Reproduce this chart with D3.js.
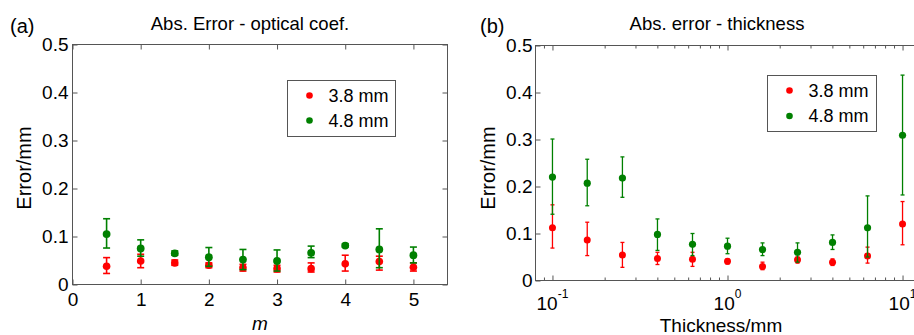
<!DOCTYPE html>
<html>
<head>
<meta charset="utf-8">
<script src="https://cdn.jsdelivr.net/npm/d3@7"></script>
<style>
  body { margin: 0; background: #fff; }
  svg { display: block; }
  text { font-family: "Liberation Sans", Arial, sans-serif; fill: #000; }
</style>
</head>
<body>
<svg id="chart" width="914" height="335"></svg>
<script>
// ---- data (a): error vs m ----
const mValues   = [0.5, 1, 1.5, 2, 2.5, 3, 3.5, 4, 4.5, 5];
const mErr38    = [0.038, 0.049, 0.045, 0.040, 0.035, 0.033, 0.033, 0.043, 0.048, 0.036];
const mErr38Low = [0.023, 0.035, 0.040, 0.035, 0.028, 0.026, 0.026, 0.028, 0.030, 0.028];
const mErr38Hi  = [0.056, 0.063, 0.051, 0.045, 0.042, 0.040, 0.045, 0.061, 0.059, 0.045];
const mErr48    = [0.105, 0.075, 0.065, 0.057, 0.052, 0.049, 0.066, 0.081, 0.073, 0.061];
const mErr48Low = [0.076, 0.059, 0.061, 0.038, 0.031, 0.028, 0.056, 0.078, 0.035, 0.045];
const mErr48Hi  = [0.137, 0.093, 0.070, 0.077, 0.073, 0.072, 0.080, 0.085, 0.116, 0.078];

// ---- data (b): error vs thickness ----
const thickness = [0.1, 0.158, 0.251, 0.398, 0.631, 1, 1.585, 2.512, 3.981, 6.31, 10];
const tErr38    = [0.112, 0.086, 0.054, 0.047, 0.045, 0.041, 0.030, 0.044, 0.039, 0.052, 0.120];
const tErr38Low = [0.069, 0.053, 0.028, 0.034, 0.030, 0.035, 0.023, 0.037, 0.032, 0.037, 0.076];
const tErr38Hi  = [0.161, 0.124, 0.081, 0.060, 0.060, 0.046, 0.039, 0.050, 0.046, 0.071, 0.168];
const tErr48    = [0.220, 0.207, 0.218, 0.098, 0.077, 0.073, 0.066, 0.060, 0.081, 0.112, 0.309];
const tErr48Low = [0.141, 0.159, 0.177, 0.064, 0.053, 0.057, 0.053, 0.039, 0.066, 0.050, 0.182];
const tErr48Hi  = [0.301, 0.258, 0.263, 0.131, 0.100, 0.090, 0.080, 0.080, 0.097, 0.180, 0.437];

// ---- ticks / labels ----
const yTicks = [0, 0.1, 0.2, 0.3, 0.4, 0.5];
const yTickLabels = ["0", "0.1", "0.2", "0.3", "0.4", "0.5"];
const mTicks = [0, 1, 2, 3, 4, 5];
const thkMajor = [0.1, 1, 10];
const thkExponents = ["-1", "0", "1"];
const seriesNames = ["3.8 mm", "4.8 mm"];
const seriesColors = ["#ff0000", "#008000"];

const svg = d3.select("#chart");
const AXIS_COLOR = "#555";

function drawFrame(p, x, y, xTicks, xFormat, minorTicks){
  const g = svg.append("g");
  // bottom
  const bottom = g.append("g").attr("transform", `translate(0,${p.bottom})`)
    .call(d3.axisBottom(x).tickValues(xTicks).tickSize(-5).tickPadding(8).tickFormat(xFormat));
  // top
  g.append("g").attr("transform", `translate(0,${p.top})`)
    .call(d3.axisTop(x).tickValues(xTicks).tickSize(-5).tickFormat(""));
  // left
  g.append("g").attr("transform", `translate(${p.left},0)`)
    .call(d3.axisLeft(y).tickValues(yTicks).tickSize(-5).tickPadding(p.yPad)
      .tickFormat((d,i) => yTickLabels[i]));
  // right
  g.append("g").attr("transform", `translate(${p.right},0)`)
    .call(d3.axisRight(y).tickValues(yTicks).tickSize(-5).tickFormat(""));

  if(minorTicks){
    [p.bottom, p.top].forEach((yy, k) => {
      g.append("g").selectAll("line").data(minorTicks).join("line")
        .attr("x1", d => x(d)).attr("x2", d => x(d))
        .attr("y1", yy).attr("y2", k === 0 ? yy - 3 : yy + 3)
        .attr("stroke", AXIS_COLOR);
    });
  }

  g.selectAll(".domain").remove();
  g.selectAll(".tick line").attr("stroke", AXIS_COLOR);
  g.selectAll(".tick text").style("font-size", "19px")
    .style("font-family", "'Liberation Sans', Arial, sans-serif").attr("fill", "#000");

  g.append("rect")
    .attr("x", p.left).attr("y", p.top)
    .attr("width", p.right - p.left).attr("height", p.bottom - p.top)
    .attr("fill", "none").attr("stroke", AXIS_COLOR);
  return bottom;
}

function drawSeries(x, y, xs, mean, low, hi, color, capW, r, sw){
  const g = svg.append("g");
  const pts = xs.map((d, i) => ({x: d, m: mean[i], lo: low[i], hi: hi[i]}));
  g.selectAll(".bar").data(pts).join("line")
    .attr("x1", d => x(d.x)).attr("x2", d => x(d.x))
    .attr("y1", d => y(d.lo)).attr("y2", d => y(d.hi))
    .attr("stroke", color).attr("stroke-width", sw);
  ["lo", "hi"].forEach(k => {
    g.selectAll(".cap-" + k).data(pts).join("line")
      .attr("x1", d => x(d.x) - capW).attr("x2", d => x(d.x) + capW)
      .attr("y1", d => y(d[k])).attr("y2", d => y(d[k]))
      .attr("stroke", color).attr("stroke-width", sw);
  });
  g.selectAll("circle").data(pts).join("circle")
    .attr("cx", d => x(d.x)).attr("cy", d => y(d.m))
    .attr("r", r).attr("fill", color);
}

function drawLegend(box, names, colors){
  const g = svg.append("g");
  g.append("rect").attr("x", box.x).attr("y", box.y)
    .attr("width", box.w).attr("height", box.h)
    .attr("fill", "#fff").attr("stroke", AXIS_COLOR);
  names.forEach((n, i) => {
    const cy = box.y + box.rowY[i];
    g.append("circle").attr("cx", box.x + 22).attr("cy", cy).attr("r", 3.3).attr("fill", colors[i]);
    g.append("text").attr("x", box.x + 41).attr("y", cy + 6)
      .style("font-size", "18px").text(n);
  });
}

// ---------------- panel (a) ----------------
const pA = {left: 72.5, top: 44.5, right: 447.5, bottom: 284.5, yPad: 4};
const xA = d3.scaleLinear().domain([0, 5.5]).range([pA.left, pA.right]);
const yA = d3.scaleLinear().domain([0, 0.5]).range([pA.bottom, pA.top]);
drawFrame(pA, xA, yA, mTicks, d => String(d), null);
drawSeries(xA, yA, mValues, mErr38, mErr38Low, mErr38Hi, seriesColors[0], 3.5, 3.8, 1.6);
drawSeries(xA, yA, mValues, mErr48, mErr48Low, mErr48Hi, seriesColors[1], 3.5, 3.9, 1.6);
drawLegend({x: 287.5, y: 80.5, w: 108, h: 56, rowY: [15, 40]}, seriesNames, seriesColors);

svg.append("text").attr("x", 250).attr("y", 30).attr("text-anchor", "middle")
  .style("font-size", "18.5px").text("Abs. Error - optical coef.");
svg.append("text").attr("x", 10).attr("y", 33).style("font-size", "20px").text("(a)");
svg.append("text").attr("transform", "translate(31,168) rotate(-90)").attr("text-anchor", "middle")
  .style("font-size", "20px").text("Error/mm");
svg.append("text").attr("x", 260).attr("y", 330).attr("text-anchor", "middle")
  .style("font-size", "19px").style("font-style", "italic").text("m");

// ---------------- panel (b) ----------------
const pB = {left: 535.5, top: 45.5, right: 919.5, bottom: 280.5, yPad: 3};
const xB = d3.scaleLog().domain([0.08, 12.5]).range([pB.left, pB.right]);
const yB = d3.scaleLinear().domain([0, 0.5]).range([pB.bottom, pB.top]);
const minorB = xB.ticks().filter(d => !thkMajor.some(v => Math.abs(v - d) < 1e-9));
const bottomB = drawFrame(pB, xB, yB, thkMajor, "", minorB);
// power-of-ten labels
bottomB.selectAll(".tick text").remove();
svg.append("g").selectAll("text").data(thkMajor).join("text")
  .attr("x", d => xB(d)).attr("y", 310).attr("text-anchor", "middle")
  .style("font-size", "19px")
  .each(function(d, i){
    const t = d3.select(this);
    t.append("tspan").text("10");
    t.append("tspan").attr("dy", -12).style("font-size", "12px").text(thkExponents[i]);
  });

drawSeries(xB, yB, thickness, tErr38, tErr38Low, tErr38Hi, seriesColors[0], 2, 3.5, 1.3);
drawSeries(xB, yB, thickness, tErr48, tErr48Low, tErr48Hi, seriesColors[1], 2, 3.6, 1.3);
drawLegend({x: 767.5, y: 75.5, w: 109, h: 56, rowY: [15, 40.5]}, seriesNames, seriesColors);

svg.append("text").attr("x", 717).attr("y", 30).attr("text-anchor", "middle")
  .style("font-size", "18.5px").text("Abs. error - thickness");
svg.append("text").attr("x", 480).attr("y", 33).style("font-size", "20px").text("(b)");
svg.append("text").attr("transform", "translate(495,168) rotate(-90)").attr("text-anchor", "middle")
  .style("font-size", "20px").text("Error/mm");
svg.append("text").attr("x", 721).attr("y", 332).attr("text-anchor", "middle")
  .style("font-size", "19px").text("Thickness/mm");
</script>
</body>
</html>
